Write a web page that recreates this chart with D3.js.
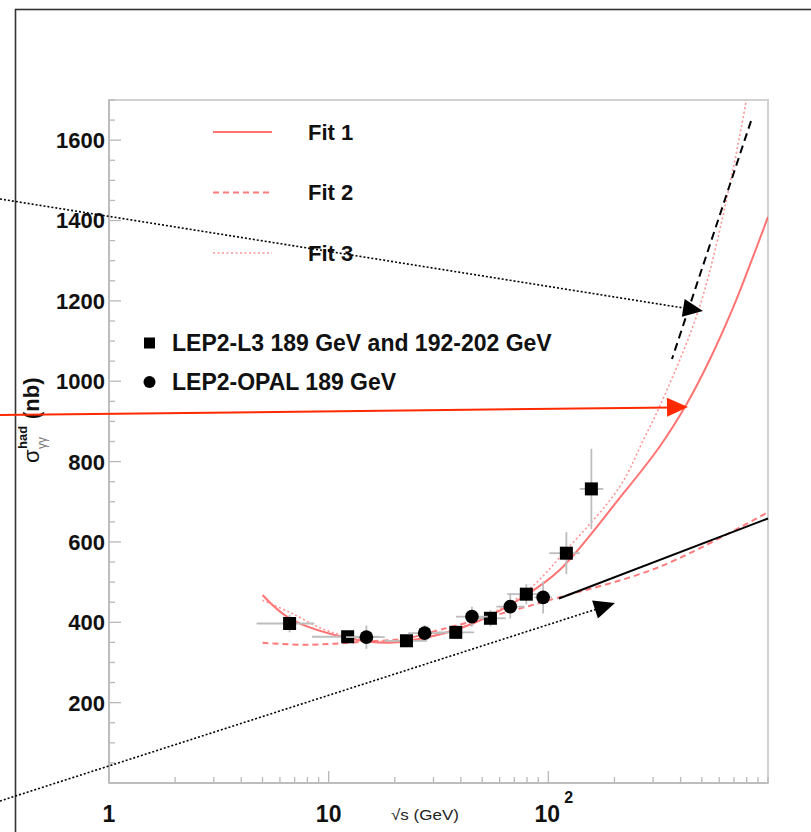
<!DOCTYPE html>
<html>
<head>
<meta charset="utf-8">
<script src="https://cdnjs.cloudflare.com/ajax/libs/d3/7.8.5/d3.min.js"></script>
<style>
  html, body { margin: 0; padding: 0; background: #fff; }
  svg { display: block; }
  text { font-family: "Liberation Sans", Arial, Helvetica, sans-serif; }
</style>
</head>
<body>
<svg id="chart" width="811" height="832"></svg>
<script>
// ---- Data ----
// L3 measurements (squares): centre energy, cross section, bin edges, error
const l3Energy = [6.64, 12.2, 22.6, 37.9, 54.5, 79.4, 120.8, 157];
const l3Sigma  = [397, 364, 354, 375, 410, 470, 572, 732];
const l3ELow   = [4.7, 8.4, 18, 31, 46, 65, 101, 139];
const l3EHigh  = [8.6, 17, 28, 46, 64, 97, 139, 178];
const l3Err    = [22, 15, 15, 15, 20, 25, 52, 100];

// OPAL measurements (circles)
const opalEnergy = [14.85, 27.35, 44.9, 67.1, 94.7];
const opalSigma  = [363, 373, 414, 439, 462];
const opalELow   = [12, 23, 38, 58, 86];
const opalEHigh  = [18, 33, 53, 78, 104];
const opalErr    = [29, 20, 25, 30, 40];

// Fit curves, sampled along sqrt(s)
const fit1Energy = [5, 6.64, 12.2, 19, 28.8, 45.4, 79.4, 112.5, 211, 321, 425, 542, 692, 824, 1000];
const fit1Sigma  = [468, 410, 361, 349, 364, 397, 468, 530, 709, 837, 942, 1053, 1182, 1287, 1409];
const fit2Energy = [5, 7.9, 14.8, 22.6, 32, 64.3, 108.6, 321, 1000];
const fit2Sigma  = [349, 344, 352, 360, 381, 425, 460, 538, 674];
const fit3Energy = [5, 6.64, 10, 18, 30, 50, 80, 120.8, 211, 273, 321, 488, 692, 800];
const fit3Sigma  = [455, 425, 378, 352, 365, 410, 478, 580, 737, 858, 937, 1185, 1526, 1705];

// Axis tick labels
const xTickValues = [1, 10, 100];
const xTickLabels = ["1", "10", "10"];
const yTickValues = [200, 400, 600, 800, 1000, 1200, 1400, 1600];

// Legend entries
const fitNames = ["Fit 1", "Fit 2", "Fit 3"];
const dataNames = ["LEP2-L3 189 GeV and 192-202 GeV", "LEP2-OPAL 189 GeV"];

// ---- Layout ----
const svg = d3.select("#chart");
const plotLeft = 109, plotRight = 768, plotTop = 100, plotBottom = 783;

const x = d3.scaleLog().domain([1, 1000]).range([plotLeft, plotRight]);
const y = d3.scaleLinear().domain([0, 1700]).range([plotBottom, plotTop]);

// outer canvas frame
svg.append("rect")
  .attr("x", 15.5).attr("y", 9.5).attr("width", 900).attr("height", 900)
  .attr("fill", "none").attr("stroke", "#333").attr("stroke-width", 1.6);

svg.append("defs").append("clipPath").attr("id", "plotClip")
  .append("rect").attr("x", plotLeft).attr("y", plotTop)
  .attr("width", plotRight - plotLeft).attr("height", plotBottom - plotTop);

// plot frame
svg.append("rect")
  .attr("x", plotLeft).attr("y", plotTop)
  .attr("width", plotRight - plotLeft).attr("height", plotBottom - plotTop)
  .attr("fill", "none").attr("stroke", "#d2d2d2").attr("stroke-width", 2);

// ---- Ticks ----
const tickColor = "#b8b8b8";
const xAll = x.ticks(30).filter(v => v >= 1 && v <= 1000);
svg.append("g").selectAll("line").data(xAll).join("line")
  .attr("x1", d => x(d)).attr("x2", d => x(d))
  .attr("y1", plotBottom)
  .attr("y2", d => Number.isInteger(Math.log10(d)) && d < 1000 ? plotBottom - 12 : plotBottom - 6)
  .attr("stroke", tickColor).attr("stroke-width", 1.3);

const yAll = d3.range(0, 1701, 50);
svg.append("g").selectAll("line").data(yAll).join("line")
  .attr("x1", plotLeft)
  .attr("x2", d => d % 200 === 0 ? plotLeft + 12 : plotLeft + 6)
  .attr("y1", d => y(d)).attr("y2", d => y(d))
  .attr("stroke", tickColor).attr("stroke-width", 1.3);

// axis lines
svg.append("line").attr("x1", plotLeft).attr("x2", plotRight).attr("y1", plotBottom).attr("y2", plotBottom)
  .attr("stroke", "#bdbdbd").attr("stroke-width", 2);
svg.append("line").attr("x1", plotLeft).attr("x2", plotLeft).attr("y1", plotTop).attr("y2", plotBottom)
  .attr("stroke", "#bdbdbd").attr("stroke-width", 2);

// y tick labels
svg.append("g").selectAll("text").data(yTickValues).join("text")
  .attr("x", plotLeft - 4).attr("y", d => y(d)).attr("dy", "0.36em")
  .attr("text-anchor", "end")
  .attr("font-size", 22).attr("font-weight", "bold").attr("fill", "#111")
  .text(d => d);

// x tick labels
const xl = svg.append("g");
xTickValues.forEach((v, i) => {
  xl.append("text")
    .attr("x", x(v) - (v === 100 ? 1 : 0)).attr("y", 822)
    .attr("text-anchor", "middle")
    .attr("font-size", 23).attr("font-weight", "bold").attr("fill", "#111")
    .text(xTickLabels[i]);
  if (v === 100) {
    xl.append("text")
      .attr("x", x(v) + 16).attr("y", 803)
      .attr("font-size", 16).attr("font-weight", "bold").attr("fill", "#111")
      .text("2");
  }
});

// axis titles
svg.append("text")
  .attr("x", 425).attr("y", 820).attr("text-anchor", "middle")
  .attr("font-size", 15).attr("fill", "#222")
  .attr("textLength", 68).attr("lengthAdjust", "spacingAndGlyphs")
  .text("√s (GeV)");

const yt = svg.append("g").attr("transform", "translate(39,463) rotate(-90)");
yt.append("text").attr("x", 0).attr("y", 0)
  .attr("font-size", 22).attr("fill", "#111").text("σ");
yt.append("text").attr("x", 14).attr("y", -12)
  .attr("font-size", 13).attr("font-weight", "bold").attr("fill", "#111").text("had");
yt.append("text").attr("x", 14).attr("y", 7)
  .attr("font-size", 12).attr("fill", "#777").text("γγ");
yt.append("text").attr("x", 44).attr("y", 0)
  .attr("font-size", 22).attr("font-weight", "bold").attr("fill", "#111").text("(nb)");

// ---- Fit curves ----
const fitStyles = [
  { color: "rgba(255,90,90,0.85)", width: 2, dash: null },
  { color: "rgba(255,100,100,0.85)", width: 2, dash: "6,4" },
  { color: "rgba(255,130,130,0.85)", width: 1.6, dash: "2,2.5" }
];
const fits = [
  d3.zip(fit1Energy, fit1Sigma),
  d3.zip(fit2Energy, fit2Sigma),
  d3.zip(fit3Energy, fit3Sigma)
];
const line = d3.line().x(d => x(d[0])).y(d => y(d[1])).curve(d3.curveCatmullRom.alpha(0.5));
const plot = svg.append("g").attr("clip-path", "url(#plotClip)");
fits.forEach((pts, i) => {
  plot.append("path").attr("d", line(pts))
    .attr("fill", "none").attr("stroke", fitStyles[i].color)
    .attr("stroke-width", fitStyles[i].width)
    .attr("stroke-dasharray", fitStyles[i].dash);
});

// ---- Data points with error bars ----
const errColor = "#bdbdbd";
function drawSeries(E, S, lo, hi, err, shape) {
  const g = plot.append("g");
  E.forEach((e, i) => {
    g.append("line").attr("x1", x(lo[i])).attr("x2", x(hi[i]))
      .attr("y1", y(S[i])).attr("y2", y(S[i]))
      .attr("stroke", errColor).attr("stroke-width", 1.8);
    g.append("line").attr("x1", x(e)).attr("x2", x(e))
      .attr("y1", y(S[i] - err[i])).attr("y2", y(S[i] + err[i]))
      .attr("stroke", errColor).attr("stroke-width", 1.8);
  });
  E.forEach((e, i) => {
    if (shape === "square") {
      g.append("rect").attr("x", x(e) - 6.5).attr("y", y(S[i]) - 6.5)
        .attr("width", 13).attr("height", 13).attr("fill", "#000");
    } else {
      g.append("circle").attr("cx", x(e)).attr("cy", y(S[i])).attr("r", 6.8).attr("fill", "#000");
    }
  });
}
drawSeries(l3Energy, l3Sigma, l3ELow, l3EHigh, l3Err, "square");
drawSeries(opalEnergy, opalSigma, opalELow, opalEHigh, opalErr, "circle");

// ---- Legends ----
const leg = svg.append("g");
fitNames.forEach((n, i) => {
  const yy = 132 + i * 60.5;
  leg.append("line").attr("x1", 213).attr("x2", 272).attr("y1", yy).attr("y2", yy)
    .attr("stroke", fitStyles[i].color).attr("stroke-width", fitStyles[i].width)
    .attr("stroke-dasharray", fitStyles[i].dash);
  leg.append("text").attr("x", 308).attr("y", yy).attr("dy", "0.36em")
    .attr("font-size", 22).attr("font-weight", "bold").attr("fill", "#111").text(n);
});
dataNames.forEach((n, i) => {
  const yy = 343 + i * 39;
  if (i === 0) {
    leg.append("rect").attr("x", 144).attr("y", yy - 5.5).attr("width", 11).attr("height", 11).attr("fill", "#000");
  } else {
    leg.append("circle").attr("cx", 149.5).attr("cy", yy).attr("r", 6).attr("fill", "#000");
  }
  leg.append("text").attr("x", 172).attr("y", yy).attr("dy", "0.36em")
    .attr("font-size", 23).attr("font-weight", "bold").attr("fill", "#111").text(n);
});

// ---- Annotation arrows ----
const ann = svg.append("g");
function arrowHead(x1, y1, x2, y2, color, len, half) {
  const a = Math.atan2(y2 - y1, x2 - x1);
  const bx = x2 - len * Math.cos(a), by = y2 - len * Math.sin(a);
  const px = -Math.sin(a) * half, py = Math.cos(a) * half;
  ann.append("path")
    .attr("d", `M${x2},${y2}L${bx + px},${by + py}L${bx - px},${by - py}Z`)
    .attr("fill", color);
}
// dotted arrow from upper left
ann.append("line").attr("x1", 0).attr("y1", 199).attr("x2", 690).attr("y2", 309)
  .attr("stroke", "#000").attr("stroke-width", 1.6).attr("stroke-dasharray", "2,2");
arrowHead(0, 199, 703, 311, "#000", 20, 9);
// dashed line along the steep curve
ann.append("line").attr("x1", 751).attr("y1", 121).attr("x2", 672).attr("y2", 359)
  .attr("stroke", "#000").attr("stroke-width", 2).attr("stroke-dasharray", "8,5");
// red arrow
ann.append("line").attr("x1", 0).attr("y1", 415).attr("x2", 672).attr("y2", 407.5)
  .attr("stroke", "#ff2a00").attr("stroke-width", 2);
arrowHead(0, 415, 688, 407, "#ff2a00", 21, 9.5);
// dotted arrow from lower left
ann.append("line").attr("x1", 0).attr("y1", 801).attr("x2", 600).attr("y2", 608)
  .attr("stroke", "#000").attr("stroke-width", 1.6).attr("stroke-dasharray", "2,2");
arrowHead(0, 801, 615, 603, "#000", 21, 9.5);
// solid segment along the flat fit
ann.append("line").attr("x1", 559).attr("y1", 598.5).attr("x2", 768).attr("y2", 518.5)
  .attr("stroke", "#000").attr("stroke-width", 2);
</script>
</body>
</html>
